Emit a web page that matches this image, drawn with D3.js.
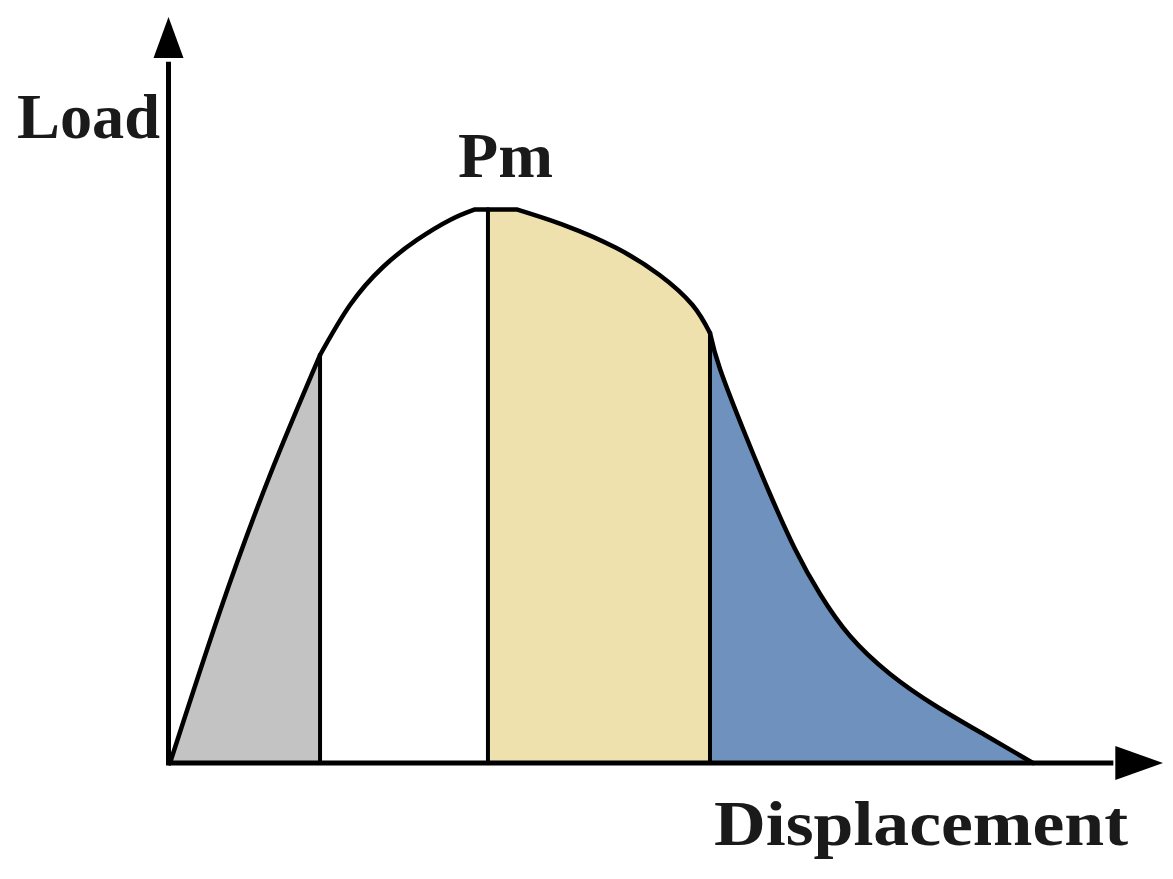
<!DOCTYPE html>
<html lang="en">
<head>
  <meta charset="utf-8">
  <script src="https://d3js.org/d3.v7.min.js"></script>
  <style>
    body { margin: 0; background: #fff; }
    .lbl { font-family: "Liberation Serif", "DejaVu Serif", serif; font-weight: bold; fill: #1a1a1a; }
  </style>
</head>
<body>
<div id="chart"></div>
<script>

// load-displacement curve pieces (displacement, load)
var elasticPts  = [[0, 0], [5.04, 20.38], [10.07, 38.61], [15.11, 54.69]];
var prePeakArc  = [[15.11, 54.69], [18.13, 61.39], [21.45, 66.49], [24.87, 70.11], [28.2, 72.79], [30.71, 74.2]];
var plateauPts  = [[30.71, 74.2], [32.02, 74.2], [34.9, 74.2]];
var postPeakArc = [[34.9, 74.2], [39.93, 71.98], [44.96, 69.03], [49.3, 65.42], [52.62, 61.39], [54.38, 57.64]];
var softening   = [[54.38, 57.64], [55.39, 52.82], [57.91, 44.1], [60.42, 36.06], [62.94, 28.69], [65.46, 22.65],
                   [68.48, 17.02], [72.51, 11.93], [77.04, 7.71], [82.07, 3.75], [86.91, 0]];

var stageColors = ["#c3c3c3", "#ffffff", "#efe1ad", "#6f91bd"];
var peakLabel = "Pm";
var xLabel = "Displacement";
var yLabel = "Load";

var width = 1173, height = 879;

var svg = d3.select("#chart")
  .append("svg")
    .attr("width", width)
    .attr("height", height);

var x = d3.scaleLinear().domain([0, 100]).range([170, 1163]);
var y = d3.scaleLinear().domain([0, 100]).range([763, 17]);

var smooth = d3.line()
  .x(function(d) { return x(d[0]); })
  .y(function(d) { return y(d[1]); })
  .curve(d3.curveNatural);
var straight = d3.line()
  .x(function(d) { return x(d[0]); })
  .y(function(d) { return y(d[1]); });

// each stage is a list of pieces: [points, generator]
var stages = [
  [[elasticPts, smooth]],
  [[prePeakArc, smooth], [plateauPts.slice(0, 2), straight]],
  [[plateauPts.slice(1), straight], [postPeakArc, smooth]],
  [[softening, smooth]]
];

function topPath(pieces) {
  return pieces.map(function(p, i) {
    var s = p[1](p[0]);
    return i === 0 ? s : "L" + s.slice(1);
  }).join("");
}

function firstPt(pieces) { return pieces[0][0][0]; }
function lastPt(pieces) { var pts = pieces[pieces.length - 1][0]; return pts[pts.length - 1]; }

// filled regions
svg.selectAll(".stage")
  .data(stages)
  .enter()
  .append("path")
    .attr("class", "stage")
    .attr("d", function(d) {
      return topPath(d) + "L" + x(lastPt(d)[0]) + "," + y(0) +
             "L" + x(firstPt(d)[0]) + "," + y(0) + "Z";
    })
    .attr("fill", function(d, i) { return stageColors[i]; });

// dividing verticals between stages
svg.selectAll(".divider")
  .data(stages.slice(1))
  .enter()
  .append("line")
    .attr("x1", function(d) { return x(firstPt(d)[0]); })
    .attr("x2", function(d) { return x(firstPt(d)[0]); })
    .attr("y1", y(0))
    .attr("y2", function(d) { return y(firstPt(d)[1]); })
    .attr("stroke", "#000")
    .attr("stroke-width", 4);

// the curve itself
svg.selectAll(".curve")
  .data(stages)
  .enter()
  .append("path")
    .attr("d", topPath)
    .attr("fill", "none")
    .attr("stroke", "#000")
    .attr("stroke-width", 4.5)
    .attr("stroke-linejoin", "round")
    .attr("stroke-linecap", "round");

// axes with arrow heads
var x0 = x(0) - 1.5, y0 = y(0);
svg.append("line")
  .attr("x1", x0).attr("x2", x(95))
  .attr("y1", y0).attr("y2", y0)
  .attr("stroke", "#000").attr("stroke-width", 5);
svg.append("line")
  .attr("x1", x0).attr("x2", x0)
  .attr("y1", y0 + 2.5).attr("y2", y(94))
  .attr("stroke", "#000").attr("stroke-width", 5);

svg.append("path")
  .attr("d", "M" + x(95.2) + "," + (y0 - 17) + "L" + x(100) + "," + y0 + "L" + x(95.2) + "," + (y0 + 17) + "Z")
  .attr("fill", "#000");
svg.append("path")
  .attr("d", "M" + (x0 - 15) + "," + y(94.5) + "L" + x0 + "," + y(100) + "L" + (x0 + 15) + "," + y(94.5) + "Z")
  .attr("fill", "#000");

// labels
svg.append("text")
  .attr("class", "lbl")
  .attr("x", 17).attr("y", 138)
  .attr("font-size", 64)
  .attr("textLength", 143)
  .attr("lengthAdjust", "spacingAndGlyphs")
  .text(yLabel);

svg.append("text")
  .attr("class", "lbl")
  .attr("x", 458).attr("y", 177)
  .attr("font-size", 64)
  .attr("textLength", 95)
  .attr("lengthAdjust", "spacingAndGlyphs")
  .text(peakLabel);

svg.append("text")
  .attr("class", "lbl")
  .attr("x", 714).attr("y", 845)
  .attr("font-size", 64)
  .attr("textLength", 414)
  .attr("lengthAdjust", "spacingAndGlyphs")
  .text(xLabel);

</script>
</body>
</html>
